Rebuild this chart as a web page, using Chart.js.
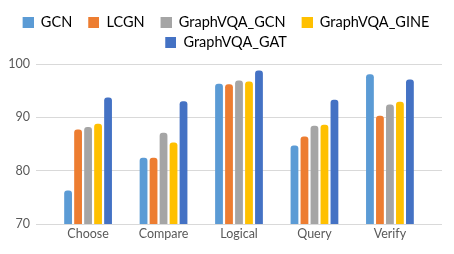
<!DOCTYPE html>
<html>
<head>
<meta charset="utf-8">
<script src="https://cdn.jsdelivr.net/npm/chart.js@4.4.1/dist/chart.umd.min.js"></script>
<style>
  html, body { margin: 0; padding: 0; background: #ffffff; }
  #wrap { width: 454px; height: 254px; }
</style>
</head>
<body>
<div id="wrap"><canvas id="c" width="454" height="254"></canvas></div>
<script>
const categories = ["Choose", "Compare", "Logical", "Query", "Verify"];
const seriesNames = ["GCN", "LCGN", "GraphVQA_GCN", "GraphVQA_GINE", "GraphVQA_GAT"];
const gcn          = [76.3, 82.4, 96.3, 84.7, 98.1];
const lcgn         = [87.7, 82.4, 96.2, 86.4, 90.3];
const graphvqaGcn  = [88.2, 87.1, 96.9, 88.4, 92.4];
const graphvqaGine = [88.8, 85.3, 96.7, 88.6, 92.9];
const graphvqaGat  = [93.7, 93.0, 98.8, 93.3, 97.1];
const yTicks = [70, 80, 90, 100];
const colors = ["#5B9BD5", "#ED7D31", "#A5A5A5", "#FFC000", "#4472C4"];

const seriesValues = [gcn, lcgn, graphvqaGcn, graphvqaGine, graphvqaGat];

const FONT = "Lato";
const BOX = 11, EXTRA = 10;
function legendSwatch(color) {
  const cv = document.createElement("canvas");
  cv.width = BOX + EXTRA; cv.height = BOX;
  const g = cv.getContext("2d");
  g.fillStyle = color;
  g.fillRect(EXTRA, 0, BOX, BOX);
  return cv;
}
const swatches = colors.map(legendSwatch);

const datasets = seriesNames.map((name, i) => ({
  label: name,
  data: categories.map((c, j) => ({ x: j, y: seriesValues[i][j] })),
  backgroundColor: colors[i],
  borderWidth: 0,
  borderRadius: { topLeft: 3, topRight: 3, bottomLeft: 0, bottomRight: 0 },
  borderSkipped: "start",
  categoryPercentage: 0.662,
  barPercentage: 0.78
}));

const legendGap = {
  id: "legendGap",
  beforeUpdate(chart) {
    const lg = chart.legend;
    if (lg && !lg._gapWrapped) {
      const orig = lg.fit;
      lg.fit = function () { orig.call(this); this.height += 4; };
      lg._gapWrapped = true;
    }
  }
};

new Chart(document.getElementById("c"), {
  type: "bar",
  data: { datasets },
  plugins: [legendGap],
  options: {
    responsive: false,
    animation: false,
    devicePixelRatio: 1,
    layout: { padding: { top: 9, right: 12, bottom: 11, left: 0 } },
    plugins: {
      tooltip: { enabled: false },
      legend: {
        position: "top",
        align: "center",
        labels: {
          usePointStyle: true,
          pointStyleWidth: BOX + EXTRA,
          boxHeight: BOX,
          padding: 6,
          color: "#595959",
          font: { family: FONT, size: 14.5 },
          generateLabels: (chart) => chart.data.datasets.map((ds, i) => ({
            text: ds.label,
            fillStyle: colors[i],
            strokeStyle: colors[i],
            lineWidth: 0,
            pointStyle: swatches[i],
            hidden: false,
            datasetIndex: i
          }))
        }
      }
    },
    scales: {
      x: {
        type: "linear",
        offset: false,
        min: -0.69,
        max: 4.69,
        grid: { display: false, drawTicks: false },
        border: { display: false },
        afterBuildTicks: (scale) => { scale.ticks = categories.map((c, i) => ({ value: i })); },
        ticks: {
          autoSkip: false,
          maxRotation: 0,
          padding: 2,
          color: "#595959",
          font: { family: FONT, size: 12.5 },
          callback: (v) => categories[v] !== undefined ? categories[v] : ""
        }
      },
      y: {
        min: 70,
        max: 100,
        afterFit: (scale) => { scale.width = 36; },
        afterBuildTicks: (scale) => { scale.ticks = yTicks.map(v => ({ value: v })); },
        grid: { color: "#D9D9D9", lineWidth: 1, drawTicks: false },
        border: { display: false },
        ticks: {
          padding: 6,
          color: "#595959",
          font: { family: FONT, size: 12.5 }
        }
      }
    }
  }
});
</script>
</body>
</html>
